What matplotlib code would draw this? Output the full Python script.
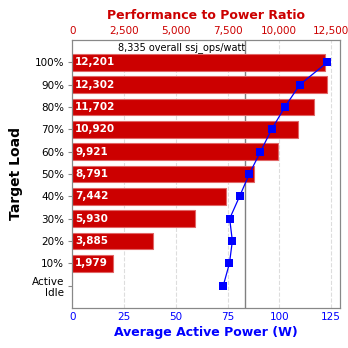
import matplotlib.pyplot as plt

# data
loads = ["100%", "90%", "80%", "70%", "60%", "50%", "40%", "30%", "20%", "10%", "Active\nIdle"]
perf_ratio = [12201, 12302, 11702, 10920, 9921, 8791, 7442, 5930, 3885, 1979, None]
avg_power = [123.2, 109.9, 102.7, 96.3, 90.9, 85.5, 80.8, 76.0, 77.3, 75.9, 72.9]
overall = 8335

red = '#cc0000'
blue = '#0000ff'

fig = plt.figure(figsize=(3.48, 3.48), dpi=100)
ax = fig.add_axes([0.2083, 0.115, 0.7687, 0.77])
axp = ax.twiny()  # power axis, created first so it doesn't reset ax ticks later

ypos = list(range(len(loads)))[::-1]  # 100% at top

# bars (performance to power ratio, top axis)
for y, v in zip(ypos, perf_ratio):
    if v is None:
        continue
    ax.barh(y, v, height=0.75, color=red, edgecolor='#e06666', linewidth=0.8, zorder=2)
    ax.annotate(f"{v:,}", xy=(0, y), xytext=(2, 0), textcoords='offset points',
                ha='left', va='center', color='white', fontsize=7.5, fontweight='bold', zorder=3)

ax.set_xlim(0, 12935)
ax.set_ylim(-1, 11)
ax.set_yticks(ypos)
ax.set_yticklabels(loads, fontsize=7.5)
ax.set_xticks([0, 2500, 5000, 7500, 10000, 12500])
ax.set_xticklabels(["0", "2,500", "5,000", "7,500", "10,000", "12,500"])
ax.xaxis.tick_top()
ax.xaxis.set_label_position('top')
ax.tick_params(axis='x', colors=red, labelsize=7.5, length=0, pad=3)
ax.tick_params(axis='y', length=3, color='#888888', pad=3)
ax.set_xlabel("Performance to Power Ratio", color=red, fontsize=9, fontweight='bold', labelpad=5)
ax.set_ylabel("Target Load", fontsize=10, fontweight='bold', labelpad=6)
ax.grid(axis='x', color='#dddddd', linestyle='--', linewidth=0.8, zorder=0)
ax.set_axisbelow(True)
for s in ax.spines.values():
    s.set_color('#888888')

# overall ssj_ops/watt marker (behind the bars)
ax.axvline(overall, color='#808080', linewidth=1, zorder=1.5)
ax.text(overall, 10.92, f"{overall:,} overall ssj_ops/watt", ha='right', va='top', fontsize=7,
        bbox=dict(facecolor='white', edgecolor='none', pad=1.5), zorder=1.2)

# power line (bottom axis)
axp.plot(avg_power, ypos, color=blue, linewidth=0.9, marker='s', markersize=5.2,
         markeredgewidth=0, zorder=5)
axp.set_xlim(0, 129.35)
axp.set_ylim(-1, 11)
axp.xaxis.tick_bottom()
axp.xaxis.set_label_position('bottom')
axp.set_xticks([0, 25, 50, 75, 100, 125])
axp.tick_params(axis='x', colors=blue, labelsize=7.5, length=0, pad=3)
axp.set_xlabel("Average Active Power (W)", color=blue, fontsize=9, fontweight='bold', labelpad=3)
for s in axp.spines.values():
    s.set_color('#888888')

fig.savefig("out.png", dpi=100)
